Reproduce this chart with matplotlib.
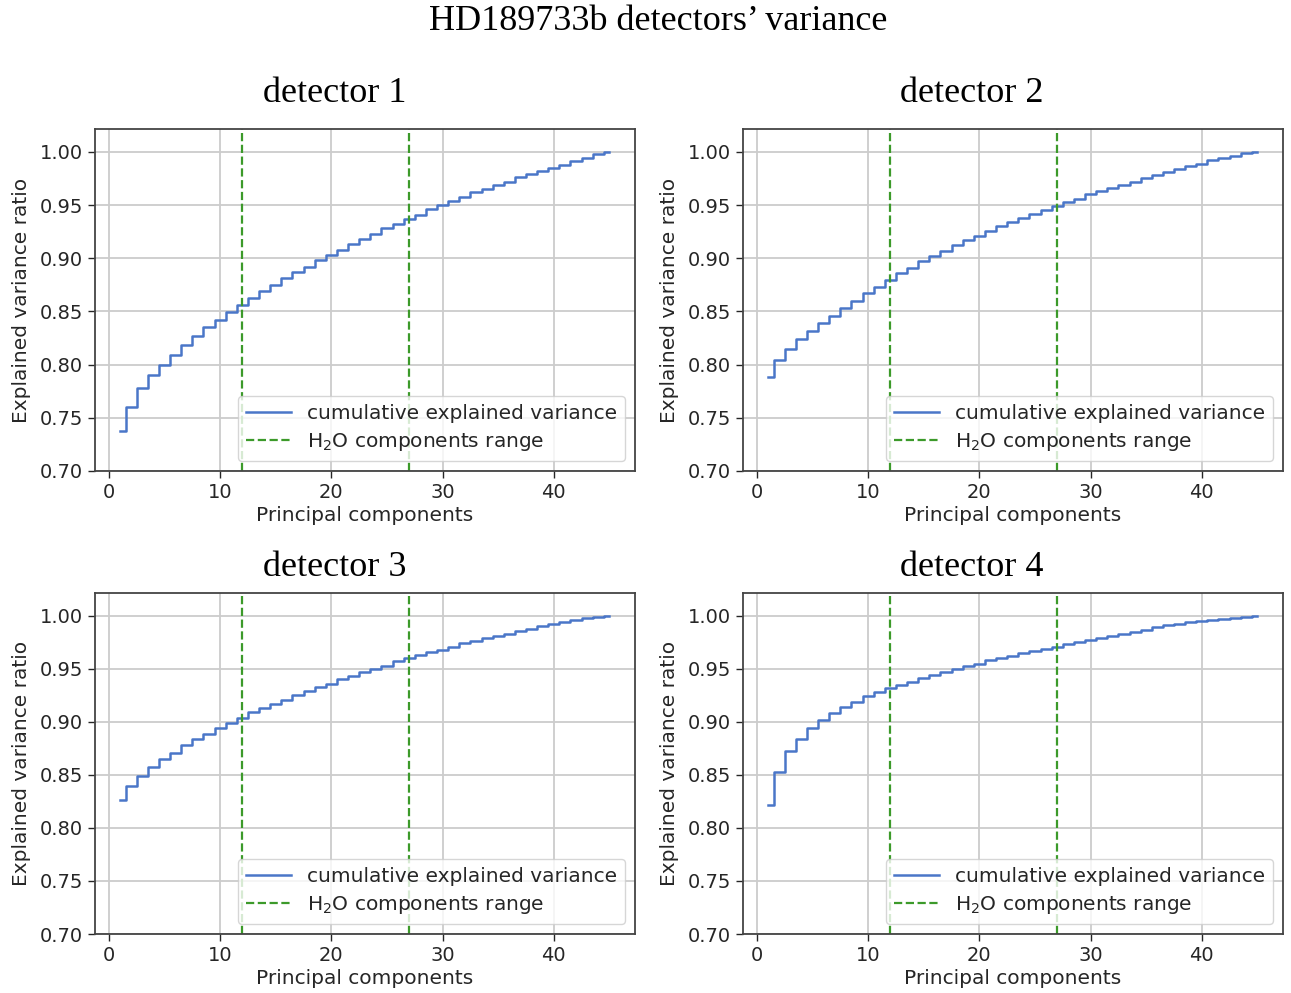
import numpy as np
import matplotlib
matplotlib.use("Agg")
import matplotlib.pyplot as plt

components = list(range(1, 46))

det1 = [0.738, 0.760, 0.778, 0.790, 0.800, 0.809, 0.818, 0.827, 0.835, 0.842,
        0.849, 0.856, 0.863, 0.869, 0.875, 0.881, 0.887, 0.892, 0.898, 0.903,
        0.908, 0.913, 0.918, 0.923, 0.928, 0.932, 0.937, 0.941, 0.946, 0.950,
        0.954, 0.958, 0.962, 0.965, 0.969, 0.972, 0.976, 0.979, 0.982, 0.985,
        0.988, 0.991, 0.994, 0.998, 1.000]
det2 = [0.788, 0.804, 0.815, 0.824, 0.832, 0.839, 0.846, 0.853, 0.860, 0.867,
        0.873, 0.880, 0.886, 0.891, 0.897, 0.902, 0.907, 0.912, 0.917, 0.921,
        0.926, 0.930, 0.934, 0.938, 0.942, 0.945, 0.949, 0.953, 0.956, 0.960,
        0.963, 0.966, 0.969, 0.972, 0.975, 0.978, 0.981, 0.984, 0.987, 0.989,
        0.992, 0.994, 0.996, 0.999, 1.000]
det3 = [0.826, 0.840, 0.849, 0.857, 0.865, 0.871, 0.878, 0.884, 0.889, 0.894,
        0.899, 0.904, 0.909, 0.913, 0.917, 0.921, 0.925, 0.929, 0.933, 0.936,
        0.940, 0.943, 0.947, 0.950, 0.953, 0.957, 0.960, 0.963, 0.966, 0.968,
        0.971, 0.974, 0.976, 0.979, 0.981, 0.983, 0.986, 0.988, 0.990, 0.992,
        0.994, 0.996, 0.998, 0.999, 1.000]
det4 = [0.822, 0.853, 0.873, 0.884, 0.894, 0.902, 0.908, 0.914, 0.919, 0.924,
        0.928, 0.932, 0.935, 0.938, 0.941, 0.944, 0.947, 0.950, 0.953, 0.955,
        0.958, 0.960, 0.962, 0.965, 0.967, 0.969, 0.971, 0.973, 0.975, 0.977,
        0.979, 0.981, 0.983, 0.985, 0.987, 0.989, 0.991, 0.992, 0.994, 0.995,
        0.996, 0.997, 0.998, 0.999, 1.000]

series = [det1, det2, det3, det4]
titles = ["detector 1", "detector 2", "detector 3", "detector 4"]
h2o_range = [12, 27]
yticks = [0.70, 0.75, 0.80, 0.85, 0.90, 0.95, 1.00]
xticks = [0, 10, 20, 30, 40]
suptitle = "HD189733b detectors\u2019 variance"

W, H = 1291, 993
fig = plt.figure(figsize=(W / 100, H / 100), dpi=100)

line_color = "#4a76c8"
green = "#3c9a2a"
text_color = "#262626"

def px(l, t, r, b):
    return [l / W, 1 - b / H, (r - l) / W, (b - t) / H]

boxes = [px(95, 129, 635, 471), px(743, 129, 1283, 471),
         px(95, 593, 635, 934), px(743, 593, 1283, 934)]
title_pos = [(335, 94), (972, 94), (335, 568), (972, 568)]

for i, (data, title) in enumerate(zip(series, titles)):
    ax = fig.add_axes(boxes[i])
    ax.step(components, data, where="mid", color=line_color, lw=1.8,
            label="cumulative explained variance")
    for j, xv in enumerate(h2o_range):
        ax.axvline(xv, color=green, ls="--", lw=1.6,
                   label="H$_2$O components range" if j == 0 else None)
    ax.set_xlim(-1.25, 47.3)
    ax.set_ylim(0.70, 1.0215)
    ax.set_xticks(xticks)
    ax.set_yticks(yticks)
    ax.set_yticklabels([f"{v:.2f}" for v in yticks])
    ax.tick_params(labelsize=14, length=5, width=1, colors=text_color)
    ax.grid(True, color="#cccccc", lw=1.3)
    ax.set_axisbelow(True)
    for s in ax.spines.values():
        s.set_color("#444444")
        s.set_linewidth(1.3)
    ax.set_xlabel("Principal components", fontsize=14.5, color=text_color, labelpad=3)
    ax.set_ylabel("Explained variance ratio", fontsize=14.5, color=text_color, labelpad=6)
    leg = ax.legend(loc="lower right", fontsize=14.5, framealpha=0.8,
                    handlelength=2.2, borderpad=0.4, labelspacing=0.4)
    for t in leg.get_texts():
        t.set_color(text_color)
    tx, ty = title_pos[i]
    fig.text(tx / W, 1 - ty / H, title, ha="center", va="center",
             fontsize=26, family="Liberation Serif")

fig.text(658 / W, 1 - 21 / H, suptitle, ha="center", va="center",
         fontsize=26, family="Liberation Serif")

fig.savefig("out.png", dpi=100)
